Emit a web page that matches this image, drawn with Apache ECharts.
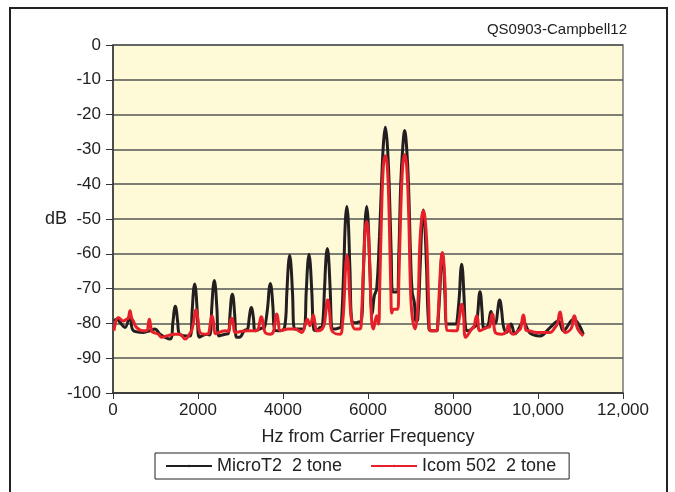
<!DOCTYPE html>
<html>
<head>
<meta charset="utf-8">
<script src="https://cdn.jsdelivr.net/npm/echarts@6/dist/echarts.min.js"></script>
<style>
  html, body { margin: 0; padding: 0; background: #fff; }
  #chart { width: 675px; height: 492px; }
</style>
</head>
<body>
<div id="chart"></div>
<script>
// MicroT2 2 tone (black) - frequency (Hz) and level (dB)
var microHz = [23, 86, 165, 282, 400, 478, 714, 870, 988, 1106, 1341,
  1411, 1441, 1466, 1491, 1521, 1566, 1812,
  1862, 1895, 1922, 1949, 1982, 2032, 2204,
  2274, 2324, 2357, 2384, 2411, 2444, 2494, 2635,
  2708, 2753, 2783, 2808, 2833, 2863, 2908, 2972, 3106,
  3160, 3205, 3232, 3255, 3278, 3305, 3350, 3576,
  3592, 3642, 3675, 3702, 3729, 3762, 3812, 3929,
  4037, 4091, 4127, 4157, 4187, 4223, 4277, 4361,
  4492, 4546, 4582, 4612, 4642, 4678, 4732, 4792, 4870,
  4923, 4977, 5013, 5043, 5073, 5109, 5163, 5223, 5341,
  5370, 5430, 5468, 5502, 5536, 5574, 5634, 5730, 5812,
  5840, 5898, 5935, 5969, 6003, 6040, 6098, 6150, 6204,
  6270, 6318, 6365, 6408, 6451, 6498, 6546, 6585, 6675,
  6725, 6770, 6820, 6863, 6906, 6953, 7000, 7040, 7090, 7130,
  7170, 7228, 7268, 7302, 7336, 7376, 7434, 7498, 7616,
  7635, 7690, 7722, 7749, 7776, 7808, 7863, 8086,
  8100, 8150, 8180, 8204, 8228, 8258, 8308, 8361, 8479,
  8545, 8590, 8614, 8635, 8656, 8680, 8730, 8792,
  8830, 8870, 8894, 8918, 8955, 9000,
  9050, 9077, 9098, 9119, 9146, 9190,
  9263, 9365, 9459, 9655, 9812, 10047, 10282, 10478, 10596, 10831, 11067];
var microDb = [-79.3, -78.8, -79.7, -81.2, -77.8, -82.1, -82.6, -82.1, -81.6, -83.1, -84.5,
  -79.5, -76.2, -75.1, -76.2, -79.5, -83.1, -83.6,
  -76.5, -70.5, -68.7, -70.5, -76.5, -84, -83.1,
  -83.3, -75.5, -69.5, -67.7, -69.5, -75.5, -83.6, -83.1,
  -83, -77.5, -72.8, -71.6, -72.8, -77.5, -84, -84, -81.9,
  -81.8, -78.5, -76.2, -75.4, -76.2, -78.5, -82.1, -81.2,
  -81.2, -75, -70, -68.5, -70, -75, -82, -82.1,
  -81.2, -71, -63, -60.4, -63, -71, -81.6, -81.6,
  -81.5, -71, -62.8, -60.1, -62.8, -71, -82, -82.1, -81.2,
  -81, -70, -61, -58.5, -61, -70, -81.6, -81.6, -81.2,
  -81, -64, -50.5, -46.4, -50.5, -64, -79.7, -79.8, -79.5,
  -79.5, -63, -50.5, -46.4, -50.5, -63, -77.3, -72, -70.1,
  -55, -40, -28, -23.6, -28, -40, -60, -71, -71,
  -60, -40, -29, -24.6, -29, -40, -60, -71, -74, -79.3,
  -79, -63.5, -51.5, -47.4, -51.5, -63.5, -81.5, -82.1, -82.1,
  -81.5, -71, -62.5, -59.8, -62.5, -71, -80.2, -80.2,
  -80.2, -72, -65, -63, -65, -72, -82, -82.1, -81.2,
  -80.5, -76, -72, -70.9, -72, -76, -81.5, -81,
  -80.5, -77.5, -76.6, -77.5, -80, -80,
  -76.5, -74, -73.3, -74, -76.5, -81,
  -82.6, -80.2, -83, -79.7, -82.8, -83.6, -81.2, -79.3, -82.1, -78.8, -83.1];

// Icom 502 2 tone (red)
var icomHz = [23, 125, 243, 321, 360, 400, 440, 478, 557, 714,
  800, 835, 855, 875, 910, 949, 1067, 1145, 1263, 1459, 1576, 1694, 1851,
  1860, 1905, 1932, 1953, 1974, 2001, 2047, 2204,
  2245, 2290, 2312, 2329, 2346, 2370, 2415, 2635,
  2710, 2755, 2775, 2792, 2809, 2830, 2880, 3145, 3341,
  3400, 3450, 3472, 3490, 3508, 3530, 3580, 3700,
  3770, 3815, 3835, 3851, 3867, 3890, 3940, 4125, 4282, 4439,
  4573, 4635, 4714, 4790, 4831,
  4950, 5000, 5030, 5051, 5072, 5102, 5150, 5341,
  5400, 5440, 5475, 5506, 5537, 5572, 5616, 5694, 5812,
  5850, 5900, 5937, 5969, 6001, 6038, 6085, 6126, 6204, 6250,
  6275, 6315, 6360, 6408, 6456, 6500, 6540, 6560, 6600, 6700,
  6725, 6770, 6815, 6863, 6911, 6956, 7000, 7040, 7106,
  7175, 7220, 7265, 7302, 7339, 7384, 7430, 7460, 7616,
  7640, 7685, 7720, 7749, 7778, 7813, 7860, 8086,
  8120, 8160, 8185, 8204, 8223, 8250, 8300, 8439,
  8490, 8535, 8557, 8579, 8630, 8792,
  8860, 8903, 8925, 8947, 8990, 9145,
  9250, 9302, 9350, 9420, 9537,
  9590, 9635, 9655, 9675, 9720, 9773, 9969, 10282, 10400,
  10460, 10500, 10518, 10536, 10580, 10635,
  10780, 10835, 10855, 10875, 10930, 11067];
var icomDb = [-82.1, -78.3, -79.3, -78.8, -78.5, -76.4, -78.5, -79.3, -81.2, -82.1,
  -82, -79.8, -78.8, -79.8, -82.3, -82.6, -83.1, -84, -83.6, -83.1, -83.1, -84.5, -82.1,
  -82, -79, -76.8, -76.1, -76.8, -79, -82.6, -83.1,
  -83, -80, -78.3, -77.8, -78.3, -80, -83, -82.1,
  -82.3, -80, -78.8, -78.5, -78.8, -80, -82.6, -82.1, -82.1,
  -82, -79.8, -78.5, -78.1, -78.5, -79.8, -82.6, -83.1,
  -82.5, -79.5, -77.7, -77.3, -77.7, -79.5, -82.1, -81.6, -81.6, -82.6,
  -78.8, -80.7, -77.6, -82.1, -82.1,
  -81, -77.5, -74, -73.3, -74, -77.5, -82.1, -83.1,
  -80, -73, -63.5, -60.4, -63.5, -73, -79.3, -81.6, -81.6,
  -77, -62, -53, -50.7, -53, -62, -79, -81.6, -77.8, -80.2,
  -70, -50, -35, -31.8, -35, -50, -72, -77, -75.9, -75.9,
  -68, -48, -35, -31.5, -35, -48, -70, -78, -81.6,
  -74, -57, -49.5, -47.6, -49.5, -57, -75, -82.1, -82.1,
  -80, -69, -61.5, -59.6, -61.5, -69, -82, -82.1,
  -80.5, -77.5, -75, -74.5, -75, -78, -84, -81.6,
  -81, -78.5, -77.8, -78.5, -82.1, -81.2,
  -81, -78, -77.3, -78, -82.5, -83.1,
  -82.5, -80.4, -82.5, -83.1, -82.1,
  -81.5, -78.3, -77.6, -78.3, -82, -82.1, -82.6, -82.6, -81.2,
  -80, -77.3, -76.7, -77.3, -80.5, -82.6,
  -81.5, -78.3, -77.8, -78.3, -81.5, -83.6];

var seriesNames = ['MicroT2  2 tone', 'Icom 502  2 tone'];
var seriesColors = ['#231f20', '#e6202b'];

function pairs(xs, ys) {
    var out = [];
    for (var i = 0; i < xs.length; i++) out.push([xs[i], ys[i]]);
    return out;
}

var font = 'Liberation Sans, Arial, sans-serif';
var chart = echarts.init(document.getElementById('chart'));

var option = {
    backgroundColor: '#ffffff',
    animation: false,
    textStyle: { fontFamily: font },
    title: {
        text: 'QS0903-Campbell12',
        right: 48,
        top: 22,
        padding: 0,
        textStyle: { fontSize: 15, fontWeight: 'normal', color: '#222', fontFamily: font }
    },
    grid: {
        left: 113, right: 52, top: 45, bottom: 99,
        show: true,
        backgroundColor: '#fef9d6',
        borderColor: '#777',
        borderWidth: 1.5
    },
    legend: {
        data: seriesNames,
        bottom: 13,
        left: 155,
        itemWidth: 46,
        itemHeight: 3,
        itemGap: 28,
        padding: [4, 13, 4, 10],
        borderColor: '#222',
        borderWidth: 1,
        textStyle: { fontSize: 18, color: '#222', fontFamily: font }
    },
    xAxis: {
        type: 'value',
        position: 'bottom',
        min: 0, max: 12000, interval: 2000,
        name: 'Hz from Carrier Frequency',
        nameLocation: 'middle',
        nameGap: 35,
        nameTextStyle: { fontSize: 18, color: '#222', fontFamily: font },
        axisLine: { onZero: false, lineStyle: { color: '#333', width: 1.5 } },
        axisTick: { show: true, inside: false, length: 6, lineStyle: { color: '#333' } },
        splitLine: { show: false },
        axisLabel: {
            fontSize: 17, color: '#222', margin: 9, fontFamily: font,
            formatter: function (v) { return v >= 10000 ? v.toLocaleString('en-US') : String(v); }
        }
    },
    yAxis: {
        type: 'value',
        min: -100, max: 0, interval: 10,
        name: 'dB',
        nameLocation: 'middle',
        nameRotate: 0,
        nameGap: 46,
        nameMoveOverlap: false,
        nameTextStyle: { fontSize: 18, color: '#222', fontFamily: font },
        axisLine: { show: true, onZero: false, lineStyle: { color: '#333', width: 1.5 } },
        axisTick: { show: true, length: 7, lineStyle: { color: '#333' } },
        axisLabel: { fontSize: 17, color: '#222', margin: 12, fontFamily: font },
        splitLine: { show: true, lineStyle: { color: '#555', width: 1.5 } }
    },
    graphic: [{
        type: 'rect',
        shape: { x: 10, y: 8, width: 657, height: 490 },
        style: { fill: 'none', stroke: '#222', lineWidth: 2 },
        silent: true
    }],
    series: [{
        name: seriesNames[0],
        type: 'line',
        symbol: 'none',
        smooth: 0.4,
        data: pairs(microHz, microDb),
        lineStyle: { color: seriesColors[0], width: 3 },
        itemStyle: { color: seriesColors[0] }
    }, {
        name: seriesNames[1],
        type: 'line',
        symbol: 'none',
        smooth: 0.4,
        data: pairs(icomHz, icomDb),
        lineStyle: { color: seriesColors[1], width: 3 },
        itemStyle: { color: seriesColors[1] }
    }]
};

chart.setOption(option);
</script>
</body>
</html>
